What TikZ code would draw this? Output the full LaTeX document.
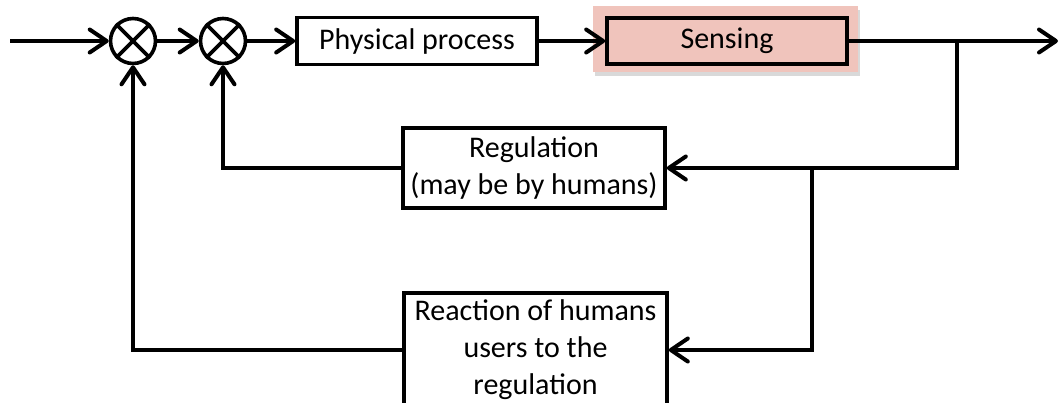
\documentclass[tikz,border=0pt]{standalone}
\usepackage{fontspec}
\setmainfont{Carlito}
\usepackage{xcolor}
\usetikzlibrary{arrows.meta,positioning,shadows,calc}
\definecolor{sensepink}{RGB}{240,196,188}

\begin{document}
\begin{tikzpicture}[
x=0.5pt,y=-0.5pt,
>={Straight Barb[length=8.5pt,width=11.5pt,round]},
line width=2pt,
sumnode/.style={
  draw,
  circle,
  line width=1.8pt,
  minimum size=22.5pt,
  inner sep=0pt
},
block/.style={
  draw,
  line width=1.8pt,
  align=center,
  inner sep=2pt,
  font=\fontsize{15}{18.5}\selectfont
},
sensbg/.style={
  fill=sensepink,
  draw=none,
  drop shadow={shadow xshift=1pt,shadow yshift=-2pt,opacity=0.3}
}
]
\clip (0,0) rectangle (1061,402);

% forward path
\coordinate (in) at (10,41);
\node[sumnode] (s1) at (133,41) {};
\node[sumnode] (s2) at (223,41) {};
\node[block,minimum width=120pt,minimum height=23.5pt] (proc) at (417,41) 
  {Physical process};
\node[sensbg,minimum width=132.5pt,minimum height=33pt] (sensbg) at (725.5,39) {};
\node[block,minimum width=120pt,minimum height=23pt] (sens) at (727,41) 
  {Sensing};
\coordinate (out) at (1058,41);
\coordinate (br1) at (957,41);

\foreach \s in {s1,s2} {
  \draw[line width=1.8pt] (\s.north west) -- (\s.south east) 
    (\s.north east) -- (\s.south west);
}

% feedback blocks
\node[block,minimum width=131pt,minimum height=40pt] (reg) at (534,168) 
  {Regulation\\(may be by humans)};
\coordinate (br2) at (812,168);
\node[block,minimum width=131.5pt,minimum height=57pt] (react) at (535.5,350) 
  {Reaction of humans\\users to the\\regulation};

\draw[->] (in) -- (s1);
\draw[->] (s1) -- (s2);
\draw[->] (s2) -- (proc);
\draw[->] (proc) -- (sens);
\draw[->] (sens) -- (out);
\draw[->] (br1) |- (reg);
\draw[->] (br2) |- (react);
\draw[->] (reg) -| (s2);
\draw[->] (react) -| (s1);
\end{tikzpicture}
\end{document}
